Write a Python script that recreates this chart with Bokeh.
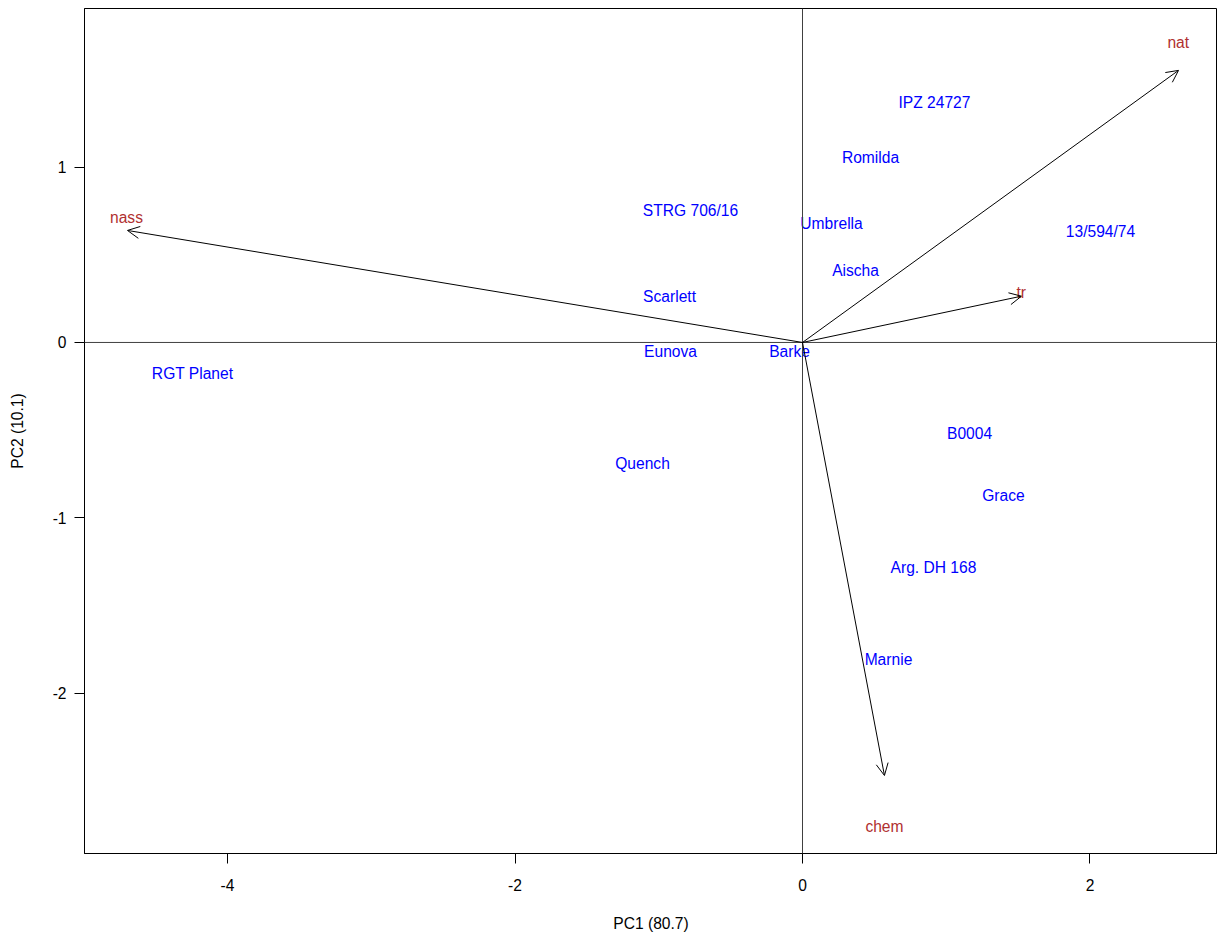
from bokeh.plotting import figure
from bokeh.models import ColumnDataSource, Arrow, OpenHead, Span, FixedTicker, Range1d
from bokeh.core.properties import value
from bokeh.embed import file_html
from bokeh.resources import INLINE

# Genotype scores (PC1, PC2)
genotypes = ["IPZ 24727", "Romilda", "STRG 706/16", "Umbrella", "13/594/74", "Aischa",
             "Scarlett", "Eunova", "Barke", "RGT Planet", "B0004", "Quench", "Grace",
             "Arg. DH 168", "Marnie"]
pc1 = [0.918, 0.473, -0.779, 0.202, 2.073, 0.369, -0.925, -0.918, -0.090, -4.243,
       1.162, -1.113, 1.398, 0.911, 0.598]
pc2 = [1.369, 1.055, 0.753, 0.679, 0.633, 0.411, 0.262, -0.051, -0.051, -0.177,
       -0.519, -0.690, -0.873, -1.284, -1.808]

# Variable loadings (arrow tips) and label positions
variables = ["nass", "nat", "tr", "chem"]
load_x = [-4.696, 2.616, 1.523, 0.570]
load_y = [0.639, 1.552, 0.264, -2.470]
lab_x = [-4.703, 2.614, 1.521, 0.570]
lab_y = [0.713, 1.710, 0.287, -2.761]

x_ticks = [-4, -2, 0, 2]
y_ticks = [-2, -1, 0, 1]
x_tick_labels = ["-4", "-2", "0", "2"]
y_tick_labels = ["-2", "-1", "0", "1"]

FONT = "Liberation Sans"
FS = "15.6px"

p = figure(width=1217, height=934, output_backend="svg", toolbar_location=None,
           x_range=Range1d(-4.995, 2.887), y_range=Range1d(-2.915, 1.905),
           min_border_left=84, min_border_right=0, min_border_top=8, min_border_bottom=81)
p.background_fill_color = "white"
p.border_fill_color = "white"
p.outline_line_color = "black"
p.outline_line_width = 1
p.grid.visible = False

for ax in (p.xaxis[0], p.yaxis[0]):
    ax.axis_line_color = "black"
    ax.major_tick_line_color = "black"
    ax.major_tick_out = 10
    ax.major_tick_in = 0
    ax.minor_tick_out = 0
    ax.minor_tick_in = 0
    ax.major_label_text_font = FONT
    ax.major_label_text_font_size = FS
    ax.major_label_text_color = "black"
    ax.axis_label_text_font = FONT
    ax.axis_label_text_font_size = FS
    ax.axis_label_text_font_style = "normal"
    ax.axis_label_text_color = "black"

p.xaxis[0].ticker = FixedTicker(ticks=x_ticks)
p.yaxis[0].ticker = FixedTicker(ticks=y_ticks)
p.xaxis[0].major_label_overrides = {float(t): s for t, s in zip(x_ticks, x_tick_labels)}
p.yaxis[0].major_label_overrides = {float(t): s for t, s in zip(y_ticks, y_tick_labels)}
p.xaxis[0].axis_label = "PC1 (80.7)"
p.yaxis[0].axis_label = "PC2 (10.1)"
p.xaxis[0].major_label_standoff = 15
p.xaxis[0].axis_label_standoff = 21
p.yaxis[0].major_label_standoff = 8
p.yaxis[0].axis_label_standoff = 24

# Reference lines at zero
p.add_layout(Span(location=0, dimension="width", line_color="#404040", line_width=1))
p.add_layout(Span(location=0, dimension="height", line_color="#404040", line_width=1))

# Loading arrows
asrc = ColumnDataSource(dict(x0=[0] * len(load_x), y0=[0] * len(load_y), x1=load_x, y1=load_y))
p.add_layout(Arrow(source=asrc, x_start="x0", y_start="y0", x_end="x1", y_end="y1",
                   line_color="black", line_width=1,
                   end=OpenHead(size=12, line_color="black", line_width=1)))

# Genotype labels
gsrc = ColumnDataSource(dict(x=pc1, y=pc2, t=genotypes))
p.text(x="x", y="y", text="t", source=gsrc, text_color="#0000FF",
       text_font=value(FONT), text_font_size=FS, text_align="center", text_baseline="middle")

# Variable labels
vsrc = ColumnDataSource(dict(x=lab_x, y=lab_y, t=variables))
p.text(x="x", y="y", text="t", source=vsrc, text_color="#B03030",
       text_font=value(FONT), text_font_size=FS, text_align="center", text_baseline="middle")

open("out.html", "w").write(file_html(p, INLINE))
